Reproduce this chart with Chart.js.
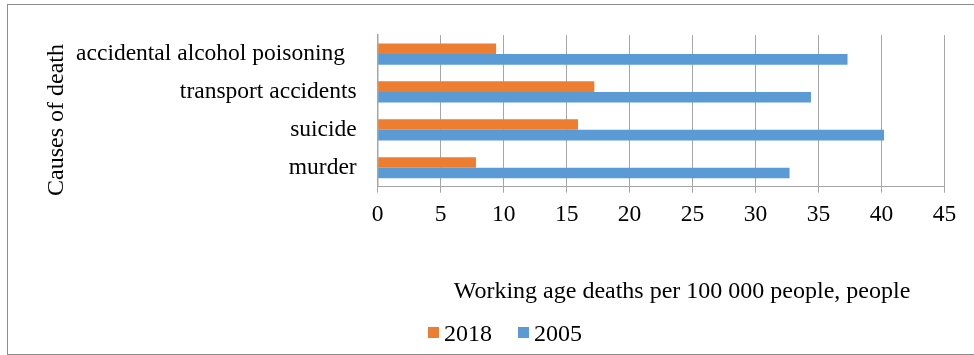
<!DOCTYPE html>
<html>
<head>
<meta charset="utf-8">
<script src="https://cdn.jsdelivr.net/npm/chart.js@4/dist/chart.umd.min.js"></script>
<style>
  html, body { margin: 0; padding: 0; background: #fff; }
  #frame {
    position: absolute; left: 7px; top: 4px;
    width: 1000px; height: 349px;
    border: 1px solid #8c8c8c;
  }
  #bars { position: absolute; left: 0; top: 0; }
</style>
</head>
<body>
<div id="frame"></div>
<canvas id="bars" width="974" height="355"></canvas>
<script>
// data
const categories = ['accidental alcohol poisoning  ', 'transport accidents', 'suicide', 'murder'];
const seriesNames = ['2018', '2005'];
const values2018 = [9.4, 17.2, 15.9, 7.8];
const values2005 = [37.3, 34.4, 40.2, 32.7];
const xTickValues = [0, 5, 10, 15, 20, 25, 30, 35, 40, 45];
const xTitle = 'Working age deaths per 100 000 people, people';
const yTitle = 'Causes of death';

const ORANGE = '#ED7D31';
const BLUE = '#5B9BD5';
const GRID = '#a6a6a6';
const SERIF = '"Liberation Serif", "Times New Roman", serif';

// axis titles + legend sit where Excel put them, not where Chart.js centres them
const extras = {
  id: 'extras',
  afterDraw(chart) {
    const ctx = chart.ctx;
    ctx.save();
    ctx.fillStyle = '#000';
    ctx.font = '24px ' + SERIF;
    ctx.textBaseline = 'alphabetic';

    ctx.textAlign = 'center';
    ctx.fillText(xTitle, 682, 298);

    ctx.save();
    ctx.translate(63, 120);
    ctx.rotate(-Math.PI / 2);
    ctx.fillText(yTitle, 0, 0);
    ctx.restore();

    // legend
    ctx.textAlign = 'left';
    const starts = [428, 518];
    chart.data.datasets.forEach((ds, i) => {
      ctx.fillStyle = ds.backgroundColor;
      ctx.fillRect(starts[i], 327, 11, 11);
      ctx.fillStyle = '#000';
      ctx.fillText(ds.label, starts[i] + 16, 341);
    });
    ctx.restore();
  }
};

const chart = new Chart(document.getElementById('bars'), {
  type: 'bar',
  data: {
    labels: categories,
    datasets: [
      {
        label: seriesNames[0],
        data: values2018,
        backgroundColor: ORANGE,
        categoryPercentage: 0.56,
        barPercentage: 1.0,
      },
      {
        label: seriesNames[1],
        data: values2005,
        backgroundColor: BLUE,
        categoryPercentage: 0.56,
        barPercentage: 1.0,
      },
    ],
  },
  options: {
    indexAxis: 'y',
    responsive: false,
    animation: false,
    layout: {
      padding: { top: 34, right: 29.5, left: 0, bottom: 128.3 },
    },
    plugins: {
      legend: { display: false },
      tooltip: { enabled: false },
    },
    scales: {
      x: {
        min: 0,
        max: 45,
        afterBuildTicks: (scale) => {
          scale.ticks = xTickValues.map(v => ({ value: v }));
        },
        afterFit: (scale) => { scale.height = 40; },
        grid: {
          color: GRID,
          lineWidth: 1,
          tickLength: 6,
        },
        border: { color: GRID, width: 1 },
        ticks: {
          color: '#000',
          padding: 8,
          font: { family: SERIF, size: 23.5 },
        },
      },
      y: {
        afterFit: (scale) => { scale.width = 377.7; },
        grid: { display: false, drawTicks: false },
        border: { color: GRID, width: 1.5 },
        ticks: {
          color: '#000',
          padding: 21,
          font: { family: SERIF, size: 23.5 },
        },
      },
    },
  },
  plugins: [extras],
});
</script>
</body>
</html>
